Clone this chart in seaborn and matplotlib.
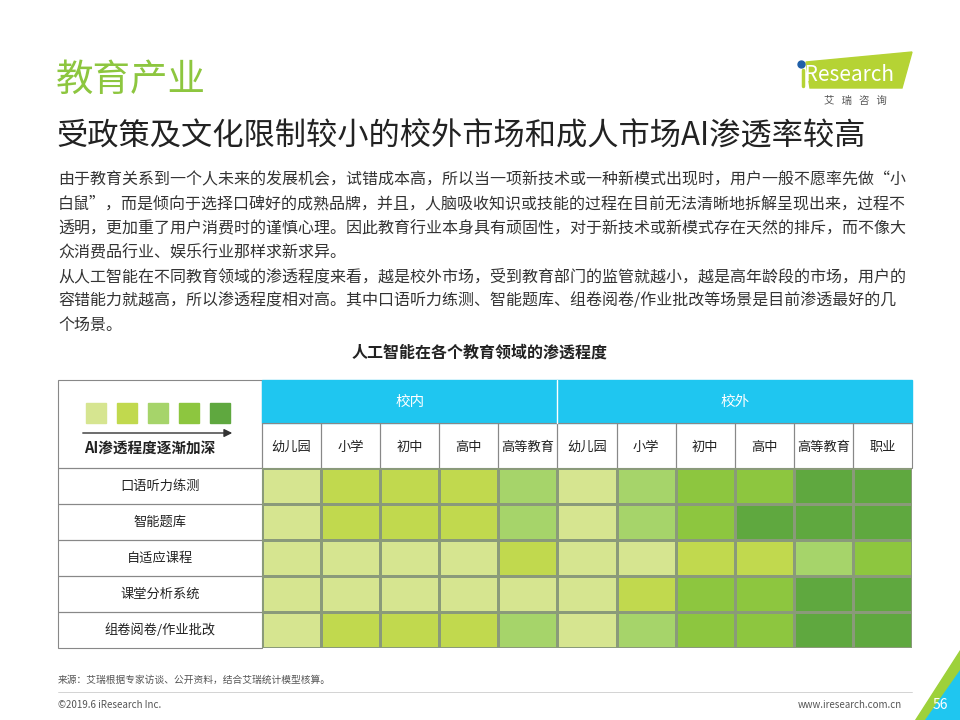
import matplotlib
matplotlib.use("Agg")
import matplotlib.pyplot as plt
import seaborn as sns
import numpy as np
from matplotlib.colors import ListedColormap
from matplotlib.patches import Rectangle, Polygon

sns.set_theme(style="white")
plt.rcParams['font.family'] = ['Noto Sans CJK SC', 'DejaVu Sans']

rows = ["口语听力练测", "智能题库", "自适应课程", "课堂分析系统", "组卷阅卷/作业批改"]
cols = ["幼儿园", "小学", "初中", "高中", "高等教育", "幼儿园", "小学", "初中", "高中", "高等教育", "职业"]
levels = [
    [1, 2, 2, 2, 3, 1, 3, 4, 4, 5, 5],
    [1, 2, 2, 2, 3, 1, 3, 4, 5, 5, 5],
    [1, 1, 1, 1, 2, 1, 1, 2, 2, 3, 4],
    [1, 1, 1, 1, 1, 1, 2, 4, 4, 5, 5],
    [1, 2, 2, 2, 3, 1, 3, 4, 4, 5, 5],
]
palette = ["#D6E590", "#C1D94E", "#A6D46A", "#8DC63F", "#5FA83F"]
cyan = "#1FC6F0"

fig = plt.figure(figsize=(9.6, 7.2), dpi=100)
bg = fig.add_axes([0, 0, 1, 1])
bg.set_xlim(0, 960); bg.set_ylim(720, 0); bg.axis("off")

# titles
bg.text(56, 80, "教育产业", fontsize=27, color="#8DC63F", va="center")
bg.text(56, 136, "受政策及文化限制较小的校外市场和成人市场AI渗透率较高", fontsize=22.5, color="#222222", va="center")
para = ["由于教育关系到一个人未来的发展机会，试错成本高，所以当一项新技术或一种新模式出现时，用户一般不愿率先做“小",
        "白鼠”，而是倾向于选择口碑好的成熟品牌，并且，人脑吸收知识或技能的过程在目前无法清晰地拆解呈现出来，过程不",
        "透明，更加重了用户消费时的谨慎心理。因此教育行业本身具有顽固性，对于新技术或新模式存在天然的排斥，而不像大",
        "众消费品行业、娱乐行业那样求新求异。",
        "从人工智能在不同教育领域的渗透程度来看，越是校外市场，受到教育部门的监管就越小，越是高年龄段的市场，用户的",
        "容错能力就越高，所以渗透程度相对高。其中口语听力练测、智能题库、组卷阅卷/作业批改等场景是目前渗透最好的几",
        "个场景。"]
for i, line in enumerate(para):
    bg.text(58, 180 + i * 24.3, line, fontsize=11.5, color="#333333", va="center")
bg.text(480, 353, "人工智能在各个教育领域的渗透程度", fontsize=11.5, fontweight="bold", color="#222222", ha="center", va="center")

# logo
bg.add_patch(Polygon([[806, 62], [912, 52], [902, 88], [810, 88]], color="#B5D334"))
bg.text(800, 75, " Research", fontsize=15, color="white", va="center")
bg.plot([803, 803], [70, 86], color="#B5D334", lw=2.5)
bg.plot([801], [64], "o", color="#1F5FA8", ms=5)
bg.text(855, 101, "艾   瑞   咨   询", fontsize=7.5, color="#555555", ha="center", va="center")

# table header
bg.add_patch(Rectangle((58, 380), 204, 88, fill=False, ec="#888888", lw=0.8))
bg.add_patch(Rectangle((262, 380), 295, 43, color=cyan))
bg.add_patch(Rectangle((557, 380), 355, 43, color=cyan))
bg.plot([557, 557], [380, 423], color="white", lw=1)
bg.text(410, 402, "校内", fontsize=10.5, color="white", ha="center", va="center")
bg.text(735, 402, "校外", fontsize=10.5, color="white", ha="center", va="center")
cw = 650 / 11
for j, c in enumerate(cols):
    x0 = 262 + j * cw
    bg.add_patch(Rectangle((x0, 423), cw, 45, fill=False, ec="#888888", lw=0.8))
    bg.text(x0 + cw / 2, 447, c, fontsize=9.5, color="#222222", ha="center", va="center")
for k, p in enumerate(palette):
    bg.add_patch(Rectangle((86 + k * 31, 403), 20, 20, color=p))
bg.annotate("", xy=(235, 433), xytext=(80, 433), arrowprops=dict(arrowstyle="-|>", color="#333333", lw=1))
bg.text(150, 448, "AI渗透程度逐渐加深", fontsize=10.5, fontweight="bold", color="#222222", ha="center", va="center")
rh = 180 / 5
for i, r in enumerate(rows):
    y0 = 468 + i * rh
    bg.add_patch(Rectangle((58, y0), 204, rh, fill=False, ec="#888888", lw=0.8))
    bg.text(160, y0 + rh / 2, r, fontsize=9.5, color="#222222", ha="center", va="center")

# heatmap
hax = fig.add_axes([262 / 960, 72 / 720, 650 / 960, 180 / 720])
sns.heatmap(np.array(levels), ax=hax, cmap=ListedColormap(palette), vmin=0.5, vmax=5.5,
            cbar=False, linewidths=1, linecolor="#8A9A7A", xticklabels=False, yticklabels=False)

# footer
bg.text(58, 680, "来源：艾瑞根据专家访谈、公开资料，结合艾瑞统计模型核算。", fontsize=7, color="#555555", va="center")
bg.plot([58, 912], [692, 692], color="#CCCCCC", lw=0.6)
bg.text(58, 705, "©2019.6 iResearch Inc.", fontsize=7, color="#555555", va="center")
bg.text(902, 705, "www.iresearch.com.cn", fontsize=7, color="#555555", va="center", ha="right")
bg.add_patch(Polygon([[960, 650], [960, 720], [915, 720]], color="#9DD13A"))
bg.add_patch(Polygon([[960, 670], [960, 720], [925, 720]], color="#1FC6F0"))
bg.text(940, 705, "56", fontsize=10, color="white", ha="center", va="center")

fig.savefig("out.png", dpi=100)
